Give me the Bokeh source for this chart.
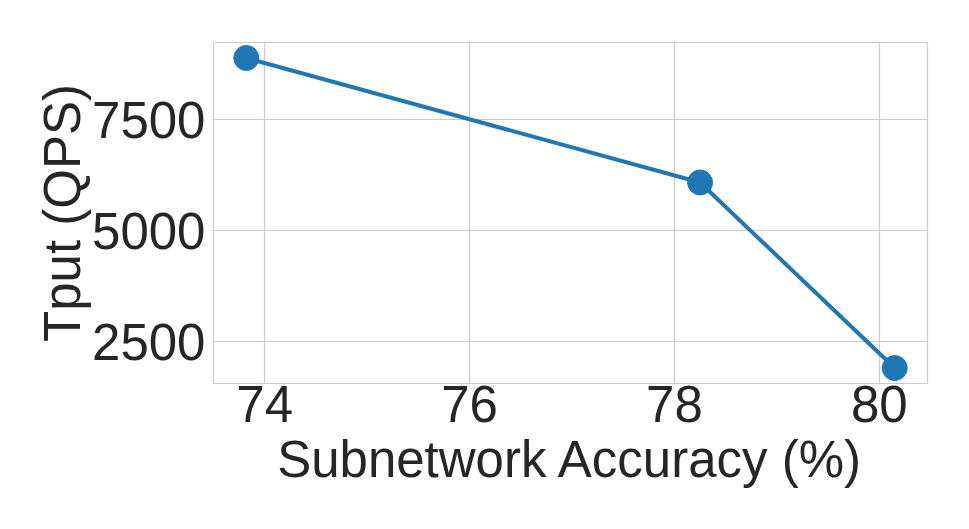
from bokeh.plotting import figure
from bokeh.models import Range1d, FixedTicker
from bokeh.embed import file_html
from bokeh.resources import INLINE

accuracy = [73.82, 78.25, 80.15]
tput = [8885, 6086, 1915]
x_ticks = [74, 76, 78, 80]
y_ticks = [2500, 5000, 7500]

FONT = "Liberation Sans"
TXT = "#262626"
GRID = "#cccccc"
BLUE = "#1f77b4"

p = figure(width=953, height=513, output_backend="svg", toolbar_location=None,
           x_range=Range1d(73.50, 80.47), y_range=Range1d(1567, 9233))
p.min_border_left = 213
p.min_border_right = 26
p.min_border_top = 42
p.min_border_bottom = 130
p.background_fill_color = "white"
p.border_fill_color = "white"
p.outline_line_color = GRID
p.outline_line_width = 1.2

p.line(accuracy, tput, line_color=BLUE, line_width=4)
p.scatter(accuracy, tput, size=25, fill_color=BLUE, line_color=BLUE)

p.xaxis.ticker = FixedTicker(ticks=x_ticks)
p.yaxis.ticker = FixedTicker(ticks=y_ticks)
p.xgrid.ticker = FixedTicker(ticks=x_ticks)
p.ygrid.ticker = FixedTicker(ticks=y_ticks)
for g in (p.xgrid, p.ygrid):
    g.grid_line_color = GRID
    g.grid_line_width = 1.2

for ax in (p.xaxis, p.yaxis):
    ax.axis_line_color = None
    ax.major_tick_line_color = None
    ax.minor_tick_line_color = None
    ax.major_tick_out = 0
    ax.major_tick_in = 0
    ax.major_label_text_font = FONT
    ax.major_label_text_font_size = "51px"
    ax.major_label_text_color = TXT
    ax.axis_label_text_font = FONT
    ax.axis_label_text_font_size = "51px"
    ax.axis_label_text_color = TXT
    ax.axis_label_text_font_style = "normal"

p.xaxis.axis_label = "Subnetwork Accuracy (%)"
p.yaxis.axis_label = "Tput (QPS)"
p.xaxis.major_label_standoff = 2
p.yaxis.major_label_standoff = 8
p.xaxis.axis_label_standoff = 6
p.yaxis.axis_label_standoff = -2

open("out.html", "w").write(file_html(p, INLINE))
